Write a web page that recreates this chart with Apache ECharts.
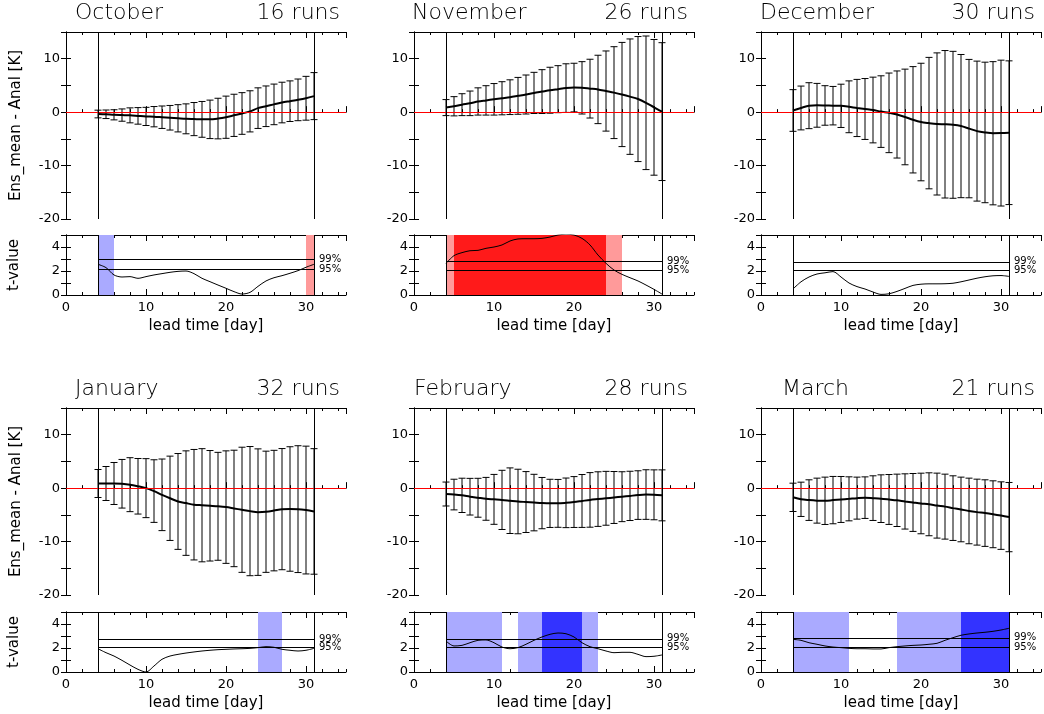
<!DOCTYPE html>
<html>
<head>
<meta charset="utf-8">
<script src="https://cdn.jsdelivr.net/npm/echarts@6/dist/echarts.min.js"></script>
<style>html,body{margin:0;padding:0;background:#fff}#chart{width:1044px;height:714px}</style>
</head>
<body>
<div id="chart"></div>
<script>
// lead time [day] of every plotted point
var days = [4,5,6,7,8,9,10,11,12,13,14,15,16,17,18,19,20,21,22,23,24,25,26,27,28,29,30,31];

// ensemble mean - analysis [K], spread (half length of the error bar), t-value
var octMean = [-0.35,-0.4,-0.5,-0.55,-0.6,-0.7,-0.8,-0.85,-0.95,-1.05,-1.15,-1.25,-1.3,-1.35,-1.35,-1.2,-0.95,-0.6,-0.25,0.15,0.75,1.1,1.45,1.8,2.05,2.3,2.6,3.0];
var octSd   = [0.72,0.8,0.95,1.15,1.4,1.55,1.7,1.9,2.1,2.3,2.55,2.8,3.1,3.35,3.6,3.8,3.95,3.95,3.9,3.85,3.8,3.8,3.8,3.8,3.8,3.9,4.1,4.4];
var octT    = [2.56,2.28,1.67,1.5,1.53,1.39,1.53,1.67,1.78,1.89,1.97,2.0,1.78,1.39,1.11,0.83,0.56,0.28,0.08,0.22,0.72,1.17,1.44,1.61,1.81,2.03,2.31,2.56];

var novMean = [0.85,1.1,1.4,1.65,2.0,2.2,2.4,2.6,2.8,3.05,3.3,3.6,3.85,4.1,4.3,4.5,4.6,4.55,4.4,4.25,3.95,3.65,3.3,2.9,2.45,1.75,0.9,0.1];
var novSd   = [1.5,1.8,2.05,2.3,2.55,2.75,2.95,3.1,3.25,3.45,3.65,3.85,4.1,4.3,4.4,4.55,4.55,4.9,5.5,6.4,7.5,8.6,9.75,10.8,11.7,12.5,12.7,12.9];
var novT    = [2.64,3.28,3.53,3.69,3.72,3.89,4.0,4.17,4.5,4.67,4.69,4.69,4.72,4.83,5.0,5.06,5.0,4.72,4.17,3.33,2.64,2.08,1.72,1.44,1.17,0.83,0.47,0.08];

var decMean = [0.31,0.78,1.21,1.28,1.25,1.21,1.18,1.0,0.78,0.59,0.4,0.1,-0.13,-0.44,-0.9,-1.43,-1.85,-2.05,-2.21,-2.27,-2.37,-2.61,-3.08,-3.55,-3.8,-3.95,-3.92,-3.85];
var decSd   = [3.9,4.1,4.3,4.1,3.7,3.6,4.05,4.85,5.35,5.7,6.15,6.7,7.45,8.15,8.95,9.95,11.0,12.3,13.3,13.8,13.75,13.4,12.95,13.1,13.15,13.4,13.65,13.45];
var decT    = [0.5,1.1,1.5,1.75,1.85,1.95,1.5,1.0,0.7,0.5,0.25,0.05,0.1,0.3,0.55,0.8,0.9,0.93,0.93,0.94,0.98,1.1,1.25,1.4,1.52,1.6,1.62,1.55];

var janMean = [0.87,0.87,0.87,0.82,0.65,0.35,0.0,-0.55,-1.25,-1.9,-2.49,-2.8,-3.1,-3.2,-3.3,-3.4,-3.55,-3.8,-4.05,-4.3,-4.49,-4.42,-4.2,-3.93,-3.9,-3.93,-4.1,-4.36];
var janSd   = [2.62,3.18,3.93,4.55,5.05,5.2,5.52,5.86,6.7,7.89,8.97,9.78,10.34,10.59,10.34,10.1,10.53,10.9,11.71,12.09,11.84,11.34,11.28,11.34,11.65,11.87,11.96,11.75];
var janT    = [1.94,1.61,1.33,0.97,0.58,0.22,0.0,0.5,1.06,1.33,1.47,1.58,1.67,1.75,1.81,1.86,1.89,1.92,1.94,1.97,2.03,2.11,2.06,1.89,1.81,1.75,1.81,1.97];

var febMean = [-1.1,-1.2,-1.35,-1.6,-1.8,-2.0,-2.1,-2.2,-2.35,-2.5,-2.6,-2.7,-2.8,-2.85,-2.85,-2.75,-2.6,-2.4,-2.2,-2.05,-1.9,-1.75,-1.6,-1.45,-1.3,-1.2,-1.25,-1.35];
var febSd   = [2.24,2.87,3.21,3.43,3.64,4.01,4.67,5.54,6.14,6.04,5.7,5.29,4.8,4.51,4.48,4.64,4.76,4.95,5.11,5.11,5.04,4.86,4.67,4.61,4.55,4.64,4.67,4.77];
var febT    = [2.58,2.17,2.22,2.44,2.64,2.67,2.44,2.08,1.94,2.03,2.31,2.64,2.92,3.14,3.25,3.19,2.92,2.44,2.11,1.94,1.75,1.61,1.64,1.64,1.47,1.28,1.31,1.42];

var marMean = [-1.72,-2.09,-2.24,-2.34,-2.37,-2.24,-2.12,-2.0,-1.87,-1.78,-1.87,-1.97,-2.12,-2.28,-2.49,-2.68,-2.87,-3.02,-3.27,-3.46,-3.74,-3.99,-4.27,-4.49,-4.67,-4.89,-5.14,-5.42];
var marSd   = [2.65,3.21,3.8,4.21,4.43,4.43,4.3,4.12,3.93,3.89,4.18,4.46,4.67,4.9,5.17,5.42,5.67,5.89,6.08,6.08,6.05,6.05,6.14,6.17,6.23,6.26,6.32,6.48];
var marT    = [2.72,2.64,2.44,2.31,2.17,2.08,2.03,1.97,1.94,1.94,1.92,1.92,2.03,2.11,2.17,2.22,2.25,2.31,2.39,2.64,2.86,3.06,3.17,3.25,3.31,3.39,3.5,3.64];

// significance bands: [from day, to day, kind]  kind -1/-2 = 95%/99% negative, 1/2 = 95%/99% positive
var octBands = [[4,6,-1],[30,31,1]];
var novBands = [[4,5,1],[5,24,2],[24,26,1]];
var decBands = [];
var janBands = [[24,27,-1]];
var febBands = [[4,11,-1],[13,16,-1],[16,21,-2],[21,23,-1]];
var marBands = [[4,11,-1],[17,25,-1],[25,31,-2]];

// t thresholds [99%, 95%]
var octThr = [2.95,2.13];
var novThr = [2.79,2.06];
var decThr = [2.76,2.05];
var janThr = [2.74,2.04];
var febThr = [2.77,2.05];
var marThr = [2.85,2.09];

(function(){
	var chart = echarts.init(document.getElementById('chart'));

	var panels = [
		{name:'October',  runs:'16 runs', mean:octMean, sd:octSd, t:octT, bands:octBands, thr:octThr, col:0, row:0, tx:75},
		{name:'November', runs:'26 runs', mean:novMean, sd:novSd, t:novT, bands:novBands, thr:novThr, col:1, row:0, tx:412},
		{name:'December', runs:'30 runs', mean:decMean, sd:decSd, t:decT, bands:decBands, thr:decThr, col:2, row:0, tx:760},
		{name:'January',  runs:'32 runs', mean:janMean, sd:janSd, t:janT, bands:janBands, thr:janThr, col:0, row:1, tx:75},
		{name:'February', runs:'28 runs', mean:febMean, sd:febSd, t:febT, bands:febBands, thr:febThr, col:1, row:1, tx:414},
		{name:'March',    runs:'21 runs', mean:marMean, sd:marSd, t:marT, bands:marBands, thr:marThr, col:2, row:1, tx:782}
	];

	var colLeft = [66, 414, 761];
	var colRight = [340, 688, 1035];
	var upperTop = [32, 408], lowerTop = [235, 612];
	var W = 280, HU = 187, HL = 60;
	var font = 'DejaVu Sans';
	var bandColors = {'-2':'#3333ff', '-1':'#aaaaff', '1':'#ff9a9a', '2':'#ff1a1a'};

	var grids = [], xAxes = [], yAxes = [], series = [], titles = [];

	function txt(size, weight){ return {fontSize:size, fontFamily:font, color:'#000', fontWeight:weight || 'normal'}; }

	function addGrid(left, top, h, lower, firstCol){
		var g = grids.length;
		grids.push({left:left, top:top, width:W, height:h, outerBoundsMode:'none', containLabel:false});
		var line = {show:true, lineStyle:{color:'#000', width:1}};
		var tick = {color:'#000', width:1};
		['bottom','top'].forEach(function(pos){
			xAxes.push({gridIndex:g, type:'value', position:pos, min:0, max:35, interval:10,
				axisLine:line, axisTick:{inside:true, length:6, lineStyle:tick},
				axisLabel:{show:lower && pos === 'bottom', margin:6, showMaxLabel:false, textStyle:txt(13)},
				splitLine:{show:false},
				name:(lower && pos === 'bottom') ? 'lead time [day]' : '',
				nameLocation:'middle', nameGap:24, nameTextStyle:txt(15)});
			xAxes.push({gridIndex:g, type:'value', position:pos, min:0, max:35, interval:2,
				axisLine:{show:false}, axisTick:{inside:true, length:3, lineStyle:tick},
				axisLabel:{show:false}, splitLine:{show:false}});
		});
		['left','right'].forEach(function(pos){
			yAxes.push({gridIndex:g, type:'value', position:pos,
				min:lower ? 0 : -20, max:lower ? 5 : 15, interval:lower ? 1 : 5,
				axisLine:line, axisTick:{inside:true, length:5, lineStyle:tick},
				axisLabel:{show:pos === 'left', margin:6, textStyle:txt(13),
					formatter:function(v){ return (lower ? v % 2 === 0 : (v % 10 === 0 && v < 15)) ? String(v) : ''; }},
				splitLine:{show:false},
				name:(firstCol && pos === 'left') ? (lower ? 't-value' : 'Ens_mean - Anal [K]') : '',
				nameLocation:'middle', nameGap:lower ? 44 : 42, nameTextStyle:txt(15)});
		});
		return g;
	}

	function errBar(params, api){
		var x = api.value(0), lo = api.value(1), hi = api.value(2);
		var a = api.coord([x, hi]), b = api.coord([x, lo]);
		var st = {stroke:'#000', lineWidth:1};
		return {type:'group', children:[
			{type:'line', shape:{x1:a[0], y1:a[1], x2:b[0], y2:b[1]}, style:st},
			{type:'line', shape:{x1:a[0]-3.5, y1:a[1], x2:a[0]+3.5, y2:a[1]}, style:st},
			{type:'line', shape:{x1:b[0]-3.5, y1:b[1], x2:b[0]+3.5, y2:b[1]}, style:st}
		]};
	}

	var vLines = [
		{xAxis:4, lineStyle:{color:'#000', width:1, type:'solid'}},
		{xAxis:31, lineStyle:{color:'#000', width:1, type:'solid'}}
	];

	panels.forEach(function(p){
		var left = colLeft[p.col];

		titles.push({text:p.name, left:p.tx, top:p.row ? 378 : 2, padding:0, textStyle:txt(22, 300)});
		titles.push({text:p.runs, right:1044 - colRight[p.col], top:p.row ? 378 : 2, padding:0, textStyle:txt(22, 300)});

		// upper panel: mean with error bars
		var gu = addGrid(left, upperTop[p.row], HU, false, p.col === 0);
		var bars = days.map(function(d, i){ return [d, p.mean[i] - p.sd[i], p.mean[i] + p.sd[i]]; });
		series.push({type:'custom', xAxisIndex:gu*4, yAxisIndex:gu*2, renderItem:errBar,
			encode:{x:0, y:[1,2]}, data:bars, silent:true, z:2});
		series.push({type:'line', xAxisIndex:gu*4, yAxisIndex:gu*2, symbol:'none', smooth:0.3,
			lineStyle:{color:'#000', width:2}, z:3, silent:true,
			data:days.map(function(d, i){ return [d, p.mean[i]]; }),
			markLine:{symbol:'none', silent:true, animation:false, label:{show:false},
				data:[{yAxis:0, lineStyle:{color:'#ff0000', width:1, type:'solid'}}].concat(vLines)}});

		// lower panel: t-value with significance shading
		var gl = addGrid(left, lowerTop[p.row], HL, true, p.col === 0);
		var lab = function(s){ return {show:true, position:'end', distance:5, formatter:s,
			fontSize:10, fontFamily:font, color:'#000'}; };
		var thrStyle = {color:'#000', width:1, type:'solid'};
		series.push({type:'line', xAxisIndex:gl*4, yAxisIndex:gl*2, symbol:'none', smooth:0.3,
			lineStyle:{color:'#000', width:1}, silent:true, z:3,
			data:days.map(function(d, i){ return [d, p.t[i]]; }),
			markArea:{silent:true, data:p.bands.map(function(b){
				return [{xAxis:b[0], itemStyle:{color:bandColors[String(b[2])], opacity:1}}, {xAxis:b[1]}];
			})},
			markLine:{symbol:'none', silent:true, animation:false, label:{show:false},
				data:[
					[{coord:[4, p.thr[0]], lineStyle:thrStyle}, {coord:[31, p.thr[0]], label:lab('99%')}],
					[{coord:[4, p.thr[1]], lineStyle:thrStyle}, {coord:[31, p.thr[1]], label:lab('95%')}]
				].concat(vLines)}});
	});

	var option = {
		backgroundColor:'#fff',
		animation:false,
		title:titles,
		grid:grids,
		xAxis:xAxes,
		yAxis:yAxes,
		series:series
	};
	chart.setOption(option);
})();
</script>
</body>
</html>
